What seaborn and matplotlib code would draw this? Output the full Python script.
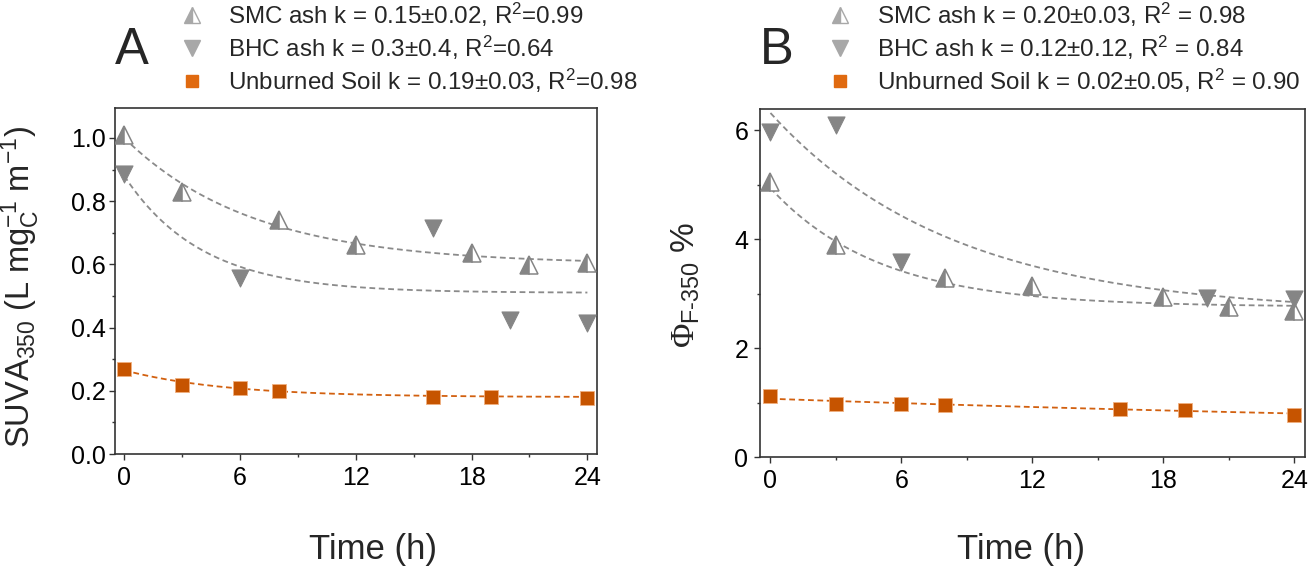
import numpy as np
import pandas as pd
import matplotlib
matplotlib.use("Agg")
import matplotlib.pyplot as plt
from matplotlib.lines import Line2D
import seaborn as sns

# ---------------- data ----------------
# Panel A: SUVA350
a_smc_t = [0, 3, 8, 12, 18, 21, 24]
a_smc_y = [1.01, 0.83, 0.74, 0.66, 0.637, 0.598, 0.604]
a_bhc_t = [0, 6, 16, 20, 24]
a_bhc_y = [0.885, 0.556, 0.715, 0.424, 0.415]
a_soil_t = [0, 3, 6, 8, 16, 19, 24]
a_soil_y = [0.268, 0.218, 0.21, 0.199, 0.181, 0.181, 0.176]
# first-order fit parameters y = c + b*exp(-k t)
a_fit_c = [0.60, 0.51, 0.18]
a_fit_b = [0.40, 0.37, 0.085]
a_fit_k = [0.15, 0.25, 0.19]

# Panel B: quantum yield
b_smc_t = [0, 3, 8, 12, 18, 21, 24]
b_smc_y = [5.06, 3.90, 3.28, 3.14, 2.94, 2.75, 2.69]
b_bhc_t = [0, 3, 6, 20, 24]
b_bhc_y = [5.97, 6.10, 3.59, 2.93, 2.91]
b_soil_t = [0, 3, 6, 8, 16, 19, 24]
b_soil_y = [1.12, 0.97, 0.97, 0.96, 0.88, 0.86, 0.77]
b_fit_c = [2.76, 2.64, 0.361]
b_fit_b = [2.18, 3.68, 0.709]
b_fit_k = [0.20, 0.12, 0.02]

a_labels = ["SMC ash k = 0.15±0.02, R$^2$=0.99",
            "BHC ash k = 0.3±0.4, R$^2$=0.64",
            "Unburned Soil k = 0.19±0.03, R$^2$=0.98"]
b_labels = ["SMC ash k = 0.20±0.03, R$^2$ = 0.98",
            "BHC ash k = 0.12±0.12, R$^2$ = 0.84",
            "Unburned Soil k = 0.02±0.05, R$^2$ = 0.90"]

x_ticks = [0, 6, 12, 18, 24]
a_yticks = [0.0, 0.2, 0.4, 0.6, 0.8, 1.0]
b_yticks = [0, 2, 4, 6]

# ---------------- style ----------------
sns.set_theme(style="ticks")
plt.rcParams['font.family'] = ['Liberation Sans', 'DejaVu Sans']
plt.rcParams['mathtext.fontset'] = 'custom'
plt.rcParams['mathtext.rm'] = 'Liberation Sans'
plt.rcParams['mathtext.it'] = 'Liberation Sans:italic'
plt.rcParams['mathtext.bf'] = 'Liberation Sans:bold'
plt.rcParams['mathtext.sf'] = 'Liberation Serif'

GRAY = '#858585'
GRAY_FIT = '#8a8a8a'
ORANGE = '#c65400'
ORANGE_FIT = '#d2600f'
SPINE = '#333333'

TICK_FS = 18
LEG_FS = 17.4

fig = plt.figure(figsize=(13.11, 5.74), dpi=100)
axA = fig.add_axes([0.0877, 0.209, 0.3677, 0.603])
axB = fig.add_axes([0.5797, 0.2038, 0.416, 0.606])


def draw(ax, smc_t, smc_y, bhc_t, bhc_y, soil_t, soil_y, fc, fb, fk):
    tf = np.linspace(0, 24, 200)
    fit_colors = [GRAY_FIT, GRAY_FIT, ORANGE_FIT]
    for c, b, k, col in zip(fc, fb, fk, fit_colors):
        df = pd.DataFrame({'t': tf, 'y': c + b * np.exp(-k * tf)})
        sns.lineplot(data=df, x='t', y='y', ax=ax, color=col, lw=1.3,
                     linestyle=(0, (3.2, 2.0)), zorder=2)
    ax.plot(smc_t, smc_y, ls='none', marker='^', ms=12.5, fillstyle='left',
            markerfacecolor=GRAY, markerfacecoloralt='white',
            markeredgecolor=GRAY, markeredgewidth=1.1, zorder=3)
    sns.scatterplot(x=bhc_t, y=bhc_y, ax=ax, marker='v', s=150, color=GRAY,
                    edgecolor=GRAY, linewidth=0.8, zorder=3)
    sns.scatterplot(x=soil_t, y=soil_y, ax=ax, marker='s', s=95, color=ORANGE,
                    edgecolor='#f0b080', linewidth=0.6, zorder=4)


draw(axA, a_smc_t, a_smc_y, a_bhc_t, a_bhc_y, a_soil_t, a_soil_y,
     a_fit_c, a_fit_b, a_fit_k)
draw(axB, b_smc_t, b_smc_y, b_bhc_t, b_bhc_y, b_soil_t, b_soil_y,
     b_fit_c, b_fit_b, b_fit_k)

for ax in (axA, axB):
    ax.set_xlim(-0.48, 24.5)
    ax.set_xticks(x_ticks)
    ax.set_xticks([3, 9, 15, 21], minor=True)
    for s in ax.spines.values():
        s.set_visible(True)
        s.set_color(SPINE)
        s.set_linewidth(1.2)
    ax.tick_params(axis='both', which='major', direction='out', length=4.5,
                   width=1.0, color=SPINE, labelsize=TICK_FS, labelcolor='black')
    ax.tick_params(axis='both', which='minor', direction='out', length=2.5,
                   width=1.0, color=SPINE)
    ax.tick_params(axis='x', which='major', pad=4)
    ax.grid(False)
    ax.set_facecolor('white')

axA.set_ylim(0, 1.095)
axA.set_yticks(a_yticks)
axA.set_yticklabels([f"{v:.1f}" for v in a_yticks])
axA.set_yticks([0.1, 0.3, 0.5, 0.7, 0.9], minor=True)
axA.tick_params(axis='y', which='major', pad=2)

axB.set_ylim(0, 6.39)
axB.set_yticks(b_yticks)
axB.set_yticks([1, 3, 5], minor=True)
axB.tick_params(axis='y', which='major', pad=4)

# axis labels
axA.set_xlabel("Time (h)", fontsize=25)
axB.set_xlabel("Time (h)", fontsize=25)
axA.xaxis.label.set_verticalalignment('center')
axB.xaxis.label.set_verticalalignment('center')
axA.xaxis.set_label_coords(0.535, -0.275)
axB.xaxis.set_label_coords(0.478, -0.265)

axA.set_ylabel(r"SUVA$_{350}$ (L mg$_{\mathrm{C}}^{-1}$ m$^{-1}$)", fontsize=23.5)
axB.set_ylabel(r"$\mathsf{\Phi}_{\mathrm{F\text{-}350}}$ %", fontsize=24)
axA.yaxis.label.set_verticalalignment('center')
axB.yaxis.label.set_verticalalignment('center')
axA.yaxis.set_label_coords(-0.197, 0.483)
axB.yaxis.set_label_coords(-0.136, 0.494)

# panel letters
fig.text(115 / 1311, 1 - 51 / 574, "A", fontsize=36.5, ha='left', va='center')
fig.text(760 / 1311, 1 - 51 / 574, "B", fontsize=36.5, ha='left', va='center')


def legend_handles():
    return [
        Line2D([], [], ls='none', marker='^', ms=11, fillstyle='left',
               markerfacecolor='#a8a8a8', markerfacecoloralt='white',
               markeredgecolor='#a8a8a8', markeredgewidth=1.0),
        Line2D([], [], ls='none', marker='v', ms=11, color='#a8a8a8'),
        Line2D([], [], ls='none', marker='s', ms=8.5, color='#e06a10'),
    ]


leg_px = LEG_FS * 100 / 72
fig.legend(legend_handles(), a_labels, loc='upper left',
           bbox_to_anchor=((192 - leg_px / 2) / 1311, 1 - 0.5 / 574),
           frameon=False, fontsize=LEG_FS, borderpad=0, borderaxespad=0,
           handlelength=1.0, handletextpad=(228 - 192 - leg_px / 2) / leg_px,
           labelspacing=0.2)
fig.legend(legend_handles(), b_labels, loc='upper left',
           bbox_to_anchor=((839.5 - leg_px / 2) / 1311, 1 - 0.5 / 574),
           frameon=False, fontsize=LEG_FS, borderpad=0, borderaxespad=0,
           handlelength=1.0, handletextpad=(877 - 839.5 - leg_px / 2) / leg_px,
           labelspacing=0.2)

fig.savefig("out.png", dpi=100, facecolor='white')
